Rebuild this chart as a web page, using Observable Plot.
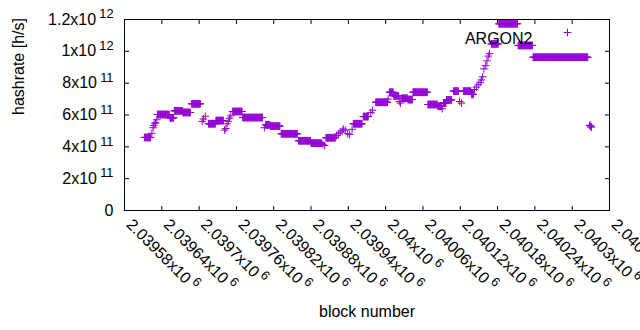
<!DOCTYPE html>
<html>
<head>
<meta charset="utf-8">
<script src="https://cdn.jsdelivr.net/npm/d3@7"></script>
<script src="https://cdn.jsdelivr.net/npm/@observablehq/plot@0.6"></script>
<style>
  html, body { margin: 0; padding: 0; background: white; }
</style>
</head>
<body>
<div id="chart"></div>
<script>
// Runs of blocks with constant hashrate (start block, end block, hashrate in 1e11 h/s)
const runStart = [2039612, 2039624, 2039626, 2039627, 2039629, 2039632, 2039633, 2039653, 2039660, 2039674,
  2039688, 2039705, 2039707, 2039710, 2039715, 2039727, 2039741, 2039743, 2039745, 2039747,
  2039749, 2039751, 2039754, 2039770, 2039805, 2039807, 2039815, 2039832, 2039860, 2039880,
  2039899, 2039902, 2039904, 2039921, 2039924, 2039927, 2039930, 2039932, 2039935, 2039939,
  2039942, 2039946, 2039948, 2039964, 2039976, 2039979, 2039984, 2040004, 2040006, 2040013,
  2040022, 2040024, 2040026, 2040036, 2040044, 2040068, 2040084, 2040091, 2040093, 2040098,
  2040109, 2040119, 2040122, 2040125, 2040138, 2040143, 2040146, 2040149, 2040152, 2040154,
  2040156, 2040158, 2040161, 2040163, 2040165, 2040167, 2040170, 2040182, 2040213, 2040237,
  2040328, 2040330];
const runEnd = [2039622, 2039624, 2039626, 2039627, 2039630, 2039632, 2039652, 2039659, 2039673, 2039686,
  2039702, 2039705, 2039707, 2039710, 2039726, 2039739, 2039741, 2039743, 2039745, 2039747,
  2039749, 2039751, 2039769, 2039802, 2039805, 2039814, 2039830, 2039858, 2039879, 2039897,
  2039899, 2039902, 2039919, 2039921, 2039924, 2039927, 2039930, 2039932, 2039935, 2039939,
  2039942, 2039946, 2039962, 2039972, 2039976, 2039979, 2040003, 2040004, 2040012, 2040021,
  2040022, 2040024, 2040035, 2040043, 2040067, 2040083, 2040090, 2040091, 2040097, 2040106,
  2040117, 2040119, 2040122, 2040137, 2040141, 2040143, 2040146, 2040149, 2040152, 2040154,
  2040156, 2040158, 2040161, 2040163, 2040165, 2040167, 2040181, 2040212, 2040236, 2040325,
  2040329, 2040331];
const runValue = [4.59, 4.85, 5.2, 5.35, 5.5, 5.7, 6.03, 5.82, 6.26, 6.16,
  6.70, 5.6, 5.75, 5.92, 5.45, 5.65, 5.05, 5.15, 5.45, 5.6,
  5.8, 5.95, 6.22, 5.84, 5.2, 5.38, 5.3, 4.82, 4.38, 4.23,
  4.15, 4.08, 4.57, 4.7, 4.82, 4.92, 5.0, 5.12, 5.05, 4.82,
  4.78, 5.1, 5.45, 5.9, 6.15, 6.3, 6.8, 7.0, 7.43, 7.2,
  6.85, 6.75, 7.05, 6.97, 7.43, 6.66, 6.55, 6.4, 6.75, 6.95,
  7.5, 6.85, 6.75, 7.5, 7.3, 7.6, 7.75, 7.9, 8.05, 8.2,
  8.4, 8.9, 9.1, 9.4, 9.7, 9.85, 10.47, 11.73, 10.37, 9.63,
  5.35, 5.25];
const seriesName = "ARGON2";

const xTicks = [2039580, 2039640, 2039700, 2039760, 2039820, 2039880, 2039940,
  2040000, 2040060, 2040120, 2040180, 2040240, 2040300, 2040360];
const xTickLabels = ["2.03958x10^6", "2.03964x10^6", "2.0397x10^6", "2.03976x10^6", "2.03982x10^6",
  "2.03988x10^6", "2.03994x10^6", "2.04x10^6", "2.04006x10^6", "2.04012x10^6", "2.04018x10^6",
  "2.04024x10^6", "2.0403x10^6", "2.04036x10^6"];
const yTicks = [0, 2e11, 4e11, 6e11, 8e11, 1e12, 1.2e12];
const yTickLabels = ["0", "2x10^11", "4x10^11", "6x10^11", "8x10^11", "1x10^12", "1.2x10^12"];

// one point per block inside each constant run
const points = [];
runStart.forEach((s, i) => {
  for (let b = s; b <= runEnd[i]; b++) points.push({block: b, hashrate: runValue[i] * 1e11});
});

const color = "#9400d3";
const font = "'Liberation Sans', Arial, sans-serif";

const chart = Plot.plot({
  width: 640,
  height: 330,
  marginLeft: 124,
  marginRight: 31,
  marginTop: 19,
  marginBottom: 120,
  style: {fontFamily: font, fontSize: "16px", background: "white", color: "black", overflow: "visible"},
  x: {domain: [2039580, 2040360], axis: "both", ticks: xTicks, tickSize: -4, tickFormat: () => "", label: null},
  y: {domain: [0, 1.2e12], axis: "both", ticks: yTicks, tickSize: -5, tickFormat: () => "", label: null},
  marks: [
    Plot.frame({stroke: "black"}),
    Plot.dot(points, {x: "block", y: "hashrate", symbol: "plus", r: 2.6, stroke: color, strokeWidth: 1}),
    Plot.text(xTicks, {x: d => d, frameAnchor: "bottom", text: (d, i) => xTickLabels[i],
      rotate: 45, textAnchor: "start", dx: 1, dy: 15, fontSize: 16}),
    Plot.text(yTicks, {y: d => d, frameAnchor: "left", text: (d, i) => yTickLabels[i],
      textAnchor: "end", dx: -11, fontSize: 16}),
    Plot.text(["hashrate [h/s]"], {frameAnchor: "left", rotate: -90, dx: -106, fontSize: 16}),
    Plot.text(["block number"], {frameAnchor: "bottom", dy: 106, fontSize: 16}),
    Plot.text([seriesName], {frameAnchor: "top-right", textAnchor: "end", dx: -77, dy: 13, fontSize: 16}),
    Plot.dot([seriesName], {frameAnchor: "top-right", dx: -42, dy: 13, symbol: "plus", r: 2.6, stroke: color, strokeWidth: 1})
  ]
});

// render "x10^n" as a raised exponent
d3.select(chart).selectAll("text").each(function() {
  const s = this.textContent;
  if (!s.includes("^")) return;
  const [base, exp] = s.split("^");
  const t = d3.select(this);
  t.text(null);
  t.append("tspan").text(base);
  t.append("tspan").attr("dx", "0.25em").attr("dy", "-0.5em").attr("font-size", "0.8em").text(exp);
});

document.getElementById("chart").appendChild(chart);
</script>
</body>
</html>
